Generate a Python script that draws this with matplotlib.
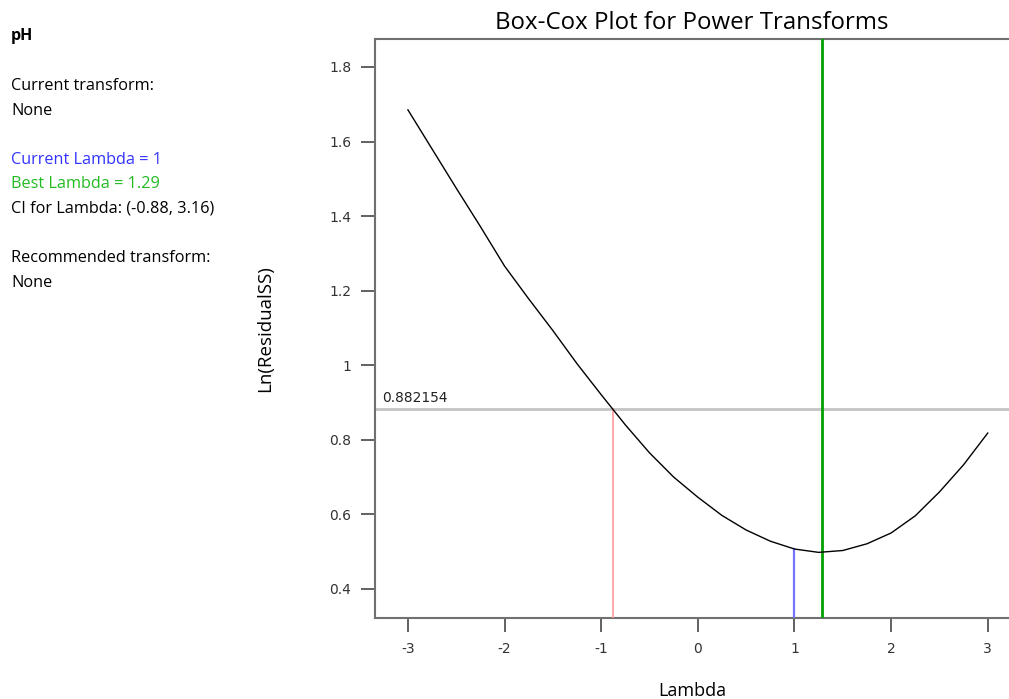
import numpy as np
import matplotlib.pyplot as plt

# Box-Cox curve
lambdas = [-3.0, -2.75, -2.5, -2.25, -2.0, -1.75, -1.5, -1.25, -1.0, -0.75, -0.5, -0.25,
           0.0, 0.25, 0.5, 0.75, 1.0, 1.25, 1.5, 1.75, 2.0, 2.25, 2.5, 2.75, 3.0]
ln_ss = [1.685, 1.580, 1.475, 1.372, 1.266, 1.178, 1.093, 1.004, 0.921, 0.840, 0.765, 0.700,
         0.646, 0.597, 0.558, 0.528, 0.507, 0.498, 0.503, 0.521, 0.550, 0.596, 0.660, 0.733, 0.818]

current_lambda = 1.0
current_value = 0.507
best_lambda = 1.29
ci_low = -0.88
ci_value = 0.882154

x_ticks = [-3, -2, -1, 0, 1, 2, 3]
y_ticks = [0.4, 0.6, 0.8, 1.0, 1.2, 1.4, 1.6, 1.8]
y_tick_labels = ["0.4", "0.6", "0.8", "1", "1.2", "1.4", "1.6", "1.8"]

info_lines = [
    ("Current transform:", "black"),
    ("None", "black"),
    (None, None),
    ("Current Lambda = 1", "#3333ff"),
    ("Best Lambda = 1.29", "#22bb22"),
    ("CI for Lambda: (-0.88, 3.16)", "black"),
    (None, None),
    ("Recommended transform:", "black"),
    ("None", "black"),
]

plt.rcParams["font.family"] = ["Open Sans", "DejaVu Sans"]

fig = plt.figure(figsize=(10.09, 6.99), dpi=100)
ax = fig.add_axes([0.3717, 0.1159, 0.6283, 0.8283])

ax.plot(lambdas, ln_ss, color="black", linewidth=1.0, zorder=4)
ax.axhline(ci_value, color="#c4c4c4", linewidth=2, zorder=2)
ax.plot([ci_low, ci_low], [0, ci_value], color="#ff9a9a", linewidth=1.2, zorder=3)
ax.plot([current_lambda, current_lambda], [0, current_value], color="#7373ff", linewidth=1.6, zorder=3)
ax.axvline(best_lambda, color="#00a000", linewidth=2, zorder=3)
ax.text(-3.27, ci_value + 0.012, "0.882154", fontsize=9.9, family="DejaVu Sans",
        color="#222222", va="bottom", ha="left")

ax.set_xlim(-3.34, 3.22)
ax.set_ylim(0.322, 1.875)
ax.set_xticks(x_ticks)
ax.set_xticklabels([str(t) for t in x_ticks])
ax.set_yticks(y_ticks)
ax.set_yticklabels(y_tick_labels)

for s in ["left", "bottom", "top"]:
    ax.spines[s].set_color("#707070")
    ax.spines[s].set_linewidth(1.5)
ax.spines["right"].set_visible(False)
ax.tick_params(axis="both", direction="out", length=10, width=1.3, color="#555555",
               labelsize=10, labelcolor="#333333", pad=7)
for lab in ax.get_xticklabels() + ax.get_yticklabels():
    lab.set_family("DejaVu Sans")

ax.set_title("Box-Cox Plot for Power Transforms", fontsize=17.3, pad=7)
ax.set_xlabel("Lambda", fontsize=13, labelpad=19)
ax.set_ylabel("Ln(ResidualSS)", fontsize=13.5, labelpad=40)

fig.text(11 / 1009, 1 - 36 / 699, "pH", fontsize=11.5, fontweight="bold", va="center")
y = 86
for txt, col in info_lines:
    if txt is not None:
        fig.text(11 / 1009, 1 - y / 699, txt, fontsize=11.7, color=col, va="center")
    y += 24.6

fig.savefig("out.png", dpi=100)
